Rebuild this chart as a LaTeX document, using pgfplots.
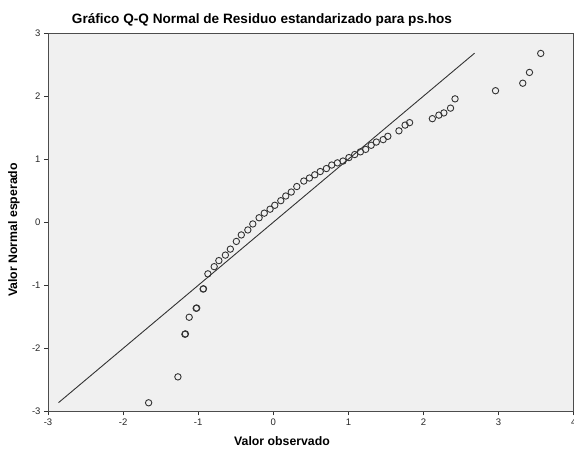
\documentclass[border=0pt]{standalone}
\usepackage{pgfplots}
\pgfplotsset{compat=1.18}
\usepackage{fontspec}
\setmainfont{Liberation Sans}
\begin{document}
\begin{tikzpicture}[x=1pt,y=1pt]
\begin{axis}[
 at={(48pt,40.5pt)}, anchor=south west,
 scale only axis, width=525.7pt, height=378.5pt,
 xmin=-3, xmax=4, ymin=-3, ymax=3,
 axis background/.style={fill=black!6},
 axis line style={black!70, line width=0.8pt},
 xtick={-3,...,4}, ytick={-3,...,3},
 xticklabels={{-3},{-2},{-1},{0},{1},{2},{3},{4}},
 yticklabels={{-3},{-2},{-1},{0},{1},{2},{3}},
 tick align=outside, xtick pos=bottom, ytick pos=left,
 major tick length=4pt,
 tick style={black!80, line width=0.8pt},
 ticklabel style={font=\fontsize{9.5}{10}\selectfont, text=black!85},
]
\addplot[black!80, line width=0.9pt] coordinates {(-2.86,-2.86) (2.68,2.68)};
\addplot[only marks, mark=o, mark size=3.2pt, mark options={draw=black!80, line width=0.9pt}] coordinates {
(-1.660,-2.862) (-1.270,-2.451) (-1.177,-1.775) (-1.170,-1.770) (-1.120,-1.506)
(-1.027,-1.364) (-1.020,-1.360) (-0.934,-1.059) (-0.930,-1.055) (-0.871,-0.818) (-0.787,-0.704)
(-0.725,-0.608) (-0.638,-0.521) (-0.572,-0.426) (-0.492,-0.304) (-0.426,-0.201)
(-0.339,-0.122) (-0.273,-0.027) (-0.189,0.071) (-0.120,0.144) (-0.043,0.207)
(0.020,0.269) (0.100,0.342) (0.166,0.416) (0.239,0.479) (0.313,0.566)
(0.406,0.653) (0.481,0.701) (0.552,0.752) (0.625,0.804) (0.707,0.851)
(0.778,0.907) (0.854,0.941) (0.928,0.970) (1.007,1.025) (1.084,1.073)
(1.160,1.116) (1.230,1.155) (1.303,1.220) (1.372,1.271) (1.463,1.310)
(1.525,1.362) (1.673,1.449) (1.755,1.540) (1.815,1.579) (2.118,1.642)
(2.205,1.698) (2.271,1.733) (2.360,1.809) (2.420,1.956) (2.959,2.085)
(3.322,2.204) (3.411,2.375) (3.561,2.676)
};
\end{axis}
\node[font=\bfseries\fontsize{13.6}{15}\selectfont] at (262,432) {Gráfico Q-Q Normal de Residuo estandarizado para ps.hos};
\node[font=\bfseries\fontsize{12.3}{14}\selectfont] at (282,11) {Valor observado};
\node[font=\bfseries\fontsize{12.3}{14}\selectfont, rotate=90] at (14,222) {Valor Normal esperado};
\pgfresetboundingbox
\path (0,0) rectangle (574,452);
\end{tikzpicture}
\end{document}
